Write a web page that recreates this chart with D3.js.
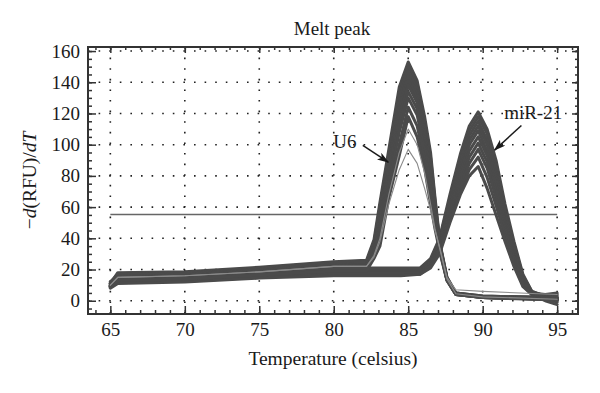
<!DOCTYPE html>
<html>
<head>
<meta charset="utf-8">
<script src="https://cdn.jsdelivr.net/npm/d3@7"></script>
<style>
  body { margin: 0; background: #fff; }
  svg { display: block; font-family: "Liberation Serif", "DejaVu Serif", serif; }
</style>
</head>
<body>
<svg class="meltpeak" width="600" height="393"></svg>
<script>
// U6 melt curves, values read at these temperatures
let u6Temps = [65, 65.5, 70, 75, 80, 82.2, 82.7, 83.1, 83.7, 84.4, 85, 85.6, 86.1, 86.5, 86.8, 87.15, 87.6, 88.2, 90, 95];
let u6Curves = [
  [11, 18, 18.5, 21.5, 25, 26, 39, 63, 97, 137, 153, 141, 118, 95, 66, 36, 15, 5, 3, 2],
  [12, 17, 18, 21, 24.5, 25, 37, 60, 94, 133, 150, 139, 115, 92, 64, 35, 15, 5, 3, 2],
  [10, 16.5, 17.5, 20.5, 24, 24, 35, 57, 91, 130, 147, 136, 112, 89, 62, 35, 14, 5, 2.5, 1.5],
  [11, 17, 17, 20, 23, 23.5, 34, 54, 88, 126, 144, 133, 110, 86, 60, 34, 14, 4.5, 2.5, 1.5],
  [10, 15.5, 16.5, 19.5, 22.5, 23, 33, 51, 85, 122, 141, 130, 107, 83, 58, 34, 14, 4.5, 2.5, 1.2],
  [9.5, 15, 16, 19, 22, 22.5, 32, 48, 82, 118, 138, 127, 104, 80, 56, 33, 14, 4.5, 2, 1],
  [10, 14.5, 15.5, 18.5, 21.5, 22, 31, 45, 78, 113, 134, 123, 100, 76, 54, 33, 13.5, 4, 2, 1],
  [9, 14, 15, 18, 21, 21, 30, 42, 75, 108, 130, 119, 96, 72, 52, 32, 13.5, 4, 2, 1],
  [9.5, 13.5, 14.5, 17, 20, 20, 28, 38, 70, 100, 124, 112, 90, 67, 49, 31, 13, 4, 2, 0.8],
  [9, 13, 14, 16.5, 19, 19, 27, 35, 66, 93, 118, 105, 85, 62, 46, 30, 13, 4, 2, 0.5]
];
// the two low U6 wells drawn as thin lines
let u6Faint = [
  [10, 15, 16, 18.5, 22, 22, 29, 40, 68, 95, 110, 100, 82, 62, 46, 32, 14, 4.5, 2.5, 1],
  [10, 15, 16, 18.5, 22, 22, 28, 38, 62, 84, 97, 88, 72, 58, 45, 33, 15, 7, 6, 4]
];

// miR-21 melt curves
let mirTemps = [65, 65.5, 70, 75, 80, 84.5, 85.8, 86.5, 87.1, 87.8, 88.5, 89.1, 89.7, 90.3, 90.9, 91.5, 92.1, 92.7, 93.3, 94.2, 95];
let mirCurves = [
  [12, 16, 16.5, 19.5, 21, 21, 21, 27, 40, 68, 94, 112, 121, 110, 90, 62, 38, 17, 6, 3, 2],
  [11, 15.5, 16, 19, 20.5, 20.5, 20.5, 26, 39, 66, 91, 109, 118, 107, 87, 59, 36, 16, 6, 3, 4],
  [10, 15, 15.5, 18.5, 20, 20, 20, 25.5, 38, 64, 88, 106, 115, 103, 84, 57, 34, 15, 5, 4, 5],
  [11, 14.5, 15, 18, 19.5, 19.5, 19.5, 25, 37, 62, 85, 103, 112, 100, 81, 55, 33, 14, 5, 2, 1],
  [9, 14, 14.5, 17.5, 19, 19, 19, 24.5, 36, 60, 82, 100, 109, 96, 78, 52, 31, 13, 5, 2, -1],
  [10, 13.5, 14, 17, 18.5, 18.5, 18.5, 24, 35, 58, 79, 96, 105, 93, 74, 50, 29, 12, 4.5, 2, 0],
  [9, 13, 13.5, 16, 18, 18, 18, 23, 34, 56, 76, 92, 101, 89, 70, 47, 28, 11, 4.5, 1.5, 3],
  [8.5, 12.5, 13, 15.5, 17.5, 17.5, 17.5, 22.5, 33, 54, 73, 88, 97, 85, 66, 45, 26, 10, 4, 0, -2.5],
  [9, 12, 12.5, 15, 17, 17, 17, 22, 32, 52, 70, 84, 92, 79, 61, 42, 24, 10, 4, 1, 1],
  [8, 11, 12, 14.5, 16, 16, 17, 21, 30, 50, 68, 80, 86, 72, 55, 38, 22, 9, 4, 1, 0]
];

let xTicks = [65, 70, 75, 80, 85, 90, 95];
let xMinor = d3.range(64, 97, 1);
let yTicks = [0, 20, 40, 60, 80, 100, 120, 140, 160];
let yMinor = d3.range(-5, 161, 5);
let threshold = 55.3;

let svg = d3.select("body").select(".meltpeak");

let box = {left: 88, right: 578, top: 47, bottom: 314};

let x = d3.scaleLinear().domain([63.5, 96.4]).range([box.left, box.right]);
let y = d3.scaleLinear().domain([-8.5, 162.6]).range([box.bottom, box.top]);

//dotted grid
let grid = svg.append("g").attr("id", "grid")
  .attr("stroke", "#222").attr("stroke-width", 1.6).attr("stroke-dasharray", "1.6,9");
grid.selectAll(".vgrid").data(xTicks).enter().append("line")
  .attr("x1", d => x(d)).attr("x2", d => x(d))
  .attr("y1", box.top).attr("y2", box.bottom);
grid.selectAll(".hgrid").data(yTicks).enter().append("line")
  .attr("x1", box.left).attr("x2", box.right)
  .attr("y1", d => y(d)).attr("y2", d => y(d));

//threshold line
svg.append("line")
  .attr("x1", x(65)).attr("x2", x(95))
  .attr("y1", y(threshold)).attr("y2", y(threshold))
  .attr("stroke", "#666").attr("stroke-width", 1.4);

let lineFor = temps => d3.line().x((d, i) => x(temps[i])).y(d => y(d));

let curves = svg.append("g").attr("id", "curves")
  .attr("fill", "none").attr("stroke-linejoin", "round").attr("stroke-linecap", "round");

curves.selectAll(".mir").data(mirCurves).enter().append("path")
  .attr("class", "mir")
  .attr("d", lineFor(mirTemps))
  .attr("stroke", "#4b4b4b").attr("stroke-width", 3);

curves.selectAll(".u6").data(u6Curves).enter().append("path")
  .attr("class", "u6")
  .attr("d", lineFor(u6Temps))
  .attr("stroke", "#4b4b4b").attr("stroke-width", 3);

curves.selectAll(".u6faint").data(u6Faint).enter().append("path")
  .attr("class", "u6faint")
  .attr("d", lineFor(u6Temps))
  .attr("stroke", "#8a8a8a").attr("stroke-width", 1.1);

//axes with inward ticks
let tickStyle = g => {
  g.select(".domain").remove();
  g.selectAll("line").attr("stroke", "#333").attr("stroke-width", 1.5);
  g.selectAll("text").attr("fill", "#1a1a1a").style("font-size", "19px")
    .style("font-family", "'Liberation Serif', serif");
};

svg.append("g").attr("transform", translate(0, box.bottom))
  .call(d3.axisBottom(x).tickValues(xMinor).tickSize(-4).tickFormat(""))
  .call(tickStyle);
svg.append("g").attr("transform", translate(0, box.bottom))
  .call(d3.axisBottom(x).tickValues(xTicks).tickSize(-8).tickPadding(9).tickFormat(d3.format("d")))
  .call(tickStyle);
svg.append("g").attr("transform", translate(0, box.top))
  .call(d3.axisTop(x).tickValues(xMinor).tickSize(-3).tickFormat(""))
  .call(tickStyle);
svg.append("g").attr("transform", translate(0, box.top))
  .call(d3.axisTop(x).tickValues(xTicks).tickSize(-6).tickFormat(""))
  .call(tickStyle);

svg.append("g").attr("transform", translate(box.left, 0))
  .call(d3.axisLeft(y).tickValues(yMinor).tickSize(-4).tickFormat(""))
  .call(tickStyle);
svg.append("g").attr("transform", translate(box.left, 0))
  .call(d3.axisLeft(y).tickValues(yTicks).tickSize(-8).tickPadding(8).tickFormat(d3.format("d")))
  .call(tickStyle);
svg.append("g").attr("transform", translate(box.right, 0))
  .call(d3.axisRight(y).tickValues(yMinor).tickSize(-3).tickFormat(""))
  .call(tickStyle);
svg.append("g").attr("transform", translate(box.right, 0))
  .call(d3.axisRight(y).tickValues(yTicks).tickSize(-6).tickFormat(""))
  .call(tickStyle);

//frame
svg.append("rect")
  .attr("x", box.left).attr("y", box.top)
  .attr("width", box.right - box.left).attr("height", box.bottom - box.top)
  .attr("fill", "none").attr("stroke", "#333").attr("stroke-width", 2);

//title and axis labels
svg.append("text")
  .attr("x", (box.left + box.right) / 2 - 1).attr("y", 35)
  .attr("text-anchor", "middle").style("font-size", "19px").attr("fill", "#1a1a1a")
  .text("Melt peak");

svg.append("text")
  .attr("x", (box.left + box.right) / 2).attr("y", 365)
  .attr("text-anchor", "middle").style("font-size", "19.5px").attr("fill", "#1a1a1a")
  .text("Temperature (celsius)");

let yLabel = svg.append("text")
  .attr("transform", translate(36, (box.top + box.bottom) / 2) + " rotate(-90)")
  .attr("text-anchor", "middle").style("font-size", "19.5px").attr("fill", "#1a1a1a");
yLabel.append("tspan").text("\u2212");
yLabel.append("tspan").style("font-style", "italic").text("d");
yLabel.append("tspan").text("(RFU)/");
yLabel.append("tspan").style("font-style", "italic").text("dT");

//arrow annotations
svg.append("defs").append("marker")
  .attr("id", "head")
  .attr("viewBox", "0 0 12 8")
  .attr("refX", 11).attr("refY", 4)
  .attr("markerWidth", 12).attr("markerHeight", 8)
  .attr("markerUnits", "userSpaceOnUse")
  .attr("orient", "auto")
  .append("path")
  .attr("d", "M0,0 L12,4 L0,8 L3,4 Z")
  .attr("fill", "#1a1a1a");

let notes = [
  {label: "U6", tx: 80.75, ty: 97.7, anchor: "middle", from: [81.95, 99.6], to: [83.66, 88.8]},
  {label: "miR-21", tx: 91.44, ty: 116.3, anchor: "start", from: [92.6, 112.3], to: [90.8, 96.5]}
];

notes.forEach(n => {
  svg.append("text")
    .attr("x", x(n.tx)).attr("y", y(n.ty))
    .attr("text-anchor", n.anchor).style("font-size", "19px").attr("fill", "#1a1a1a")
    .text(n.label);
  svg.append("line")
    .attr("x1", x(n.from[0])).attr("y1", y(n.from[1]))
    .attr("x2", x(n.to[0])).attr("y2", y(n.to[1]))
    .attr("stroke", "#1a1a1a").attr("stroke-width", 1.5)
    .attr("marker-end", "url(#head)");
});

function translate(x, y) {
  return 'translate(' + x + ',' + y + ')';
}
</script>
</body>
</html>
